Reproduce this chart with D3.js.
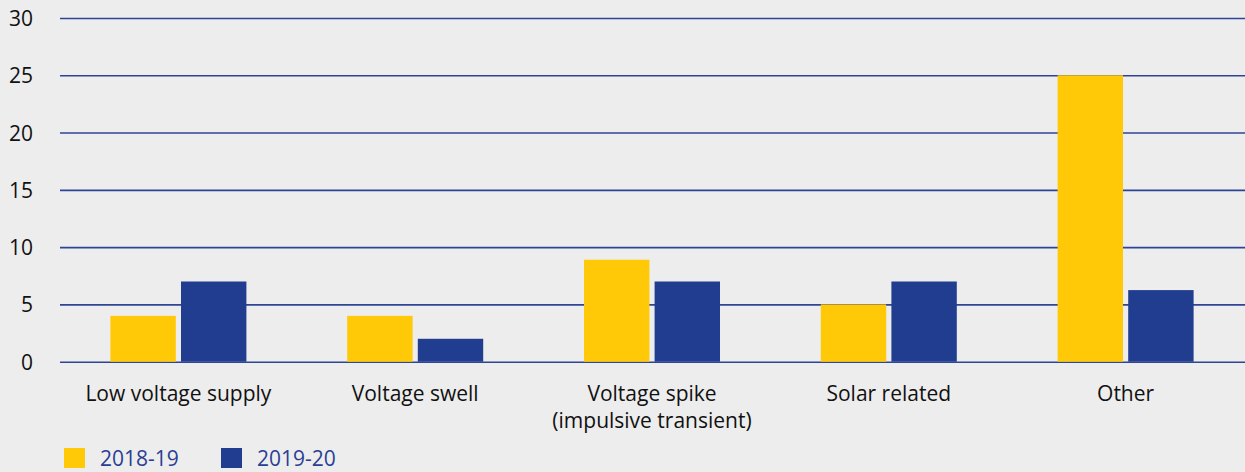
<!DOCTYPE html>
<html>
<head>
<meta charset="utf-8">
<script src="https://cdn.jsdelivr.net/npm/d3@7/dist/d3.min.js"></script>
<style>
  html, body { margin: 0; padding: 0; background: #ededed; }
  svg { display: block; }
  text { font-family: "Open Sans", Lato, sans-serif; }
</style>
</head>
<body>
<svg id="chart" width="1245" height="472"></svg>
<script>
// Complaint categories and counts per year
const categories = [
  ["Low voltage supply"],
  ["Voltage swell"],
  ["Voltage spike", "(impulsive transient)"],
  ["Solar related"],
  ["Other"]
];
const seriesNames = ["2018-19", "2019-20"];
const values2018 = [4, 4, 8.9, 5, 25];
const values2019 = [7, 2, 7, 7, 6.25];
const yTicks = [0, 5, 10, 15, 20, 25, 30];
const colors = ["#ffc907", "#213d8f"];

const svg = d3.select("#chart");
const W = 1245;
const plotLeft = 60, plotRight = 1244, plotTop = 18, plotBottom = 361.7;

const x = d3.scaleBand()
  .domain(d3.range(categories.length))
  .range([plotLeft, plotRight])
  .padding(0);

const y = d3.scaleLinear().domain([0, 30]).range([plotBottom, plotTop]);

// inner band for the two years within each category
const groupHalf = 68;
const xInner = d3.scaleBand()
  .domain(seriesNames)
  .range([-groupHalf, groupHalf])
  .paddingInner(10 / 136);

// gridlines
const yAxis = d3.axisLeft(y)
  .tickValues(yTicks)
  .tickSize(-(W - plotLeft))
  .tickPadding(27);

const gAxis = svg.append("g")
  .attr("transform", `translate(${plotLeft},0)`)
  .call(yAxis);
gAxis.select(".domain").remove();
gAxis.selectAll(".tick line")
  .attr("stroke", "#2e4596")
  .attr("stroke-width", 1.6);
gAxis.selectAll(".tick text")
  .attr("fill", "#111")
  .attr("dy", "0.36em")
  .style("font-size", "21px")
  .style("font-family", "'Open Sans', sans-serif");

// bars
const series = [values2018, values2019];
series.forEach((vals, si) => {
  svg.append("g").selectAll("rect")
    .data(vals)
    .join("rect")
    .attr("x", (d, i) => x(i) + x.bandwidth() / 2 + xInner(seriesNames[si]))
    .attr("width", xInner.bandwidth())
    .attr("y", d => y(d))
    .attr("height", d => y(0) - y(d))
    .attr("fill", colors[si]);
});

// category labels
const labels = svg.append("g").selectAll("text")
  .data(categories)
  .join("text")
  .attr("x", (d, i) => x(i) + x.bandwidth() / 2)
  .attr("y", 401)
  .attr("text-anchor", "middle")
  .attr("fill", "#111")
  .style("font-size", "21px");
labels.selectAll("tspan")
  .data(d => d)
  .join("tspan")
  .attr("x", function () { return d3.select(this.parentNode).attr("x"); })
  .attr("dy", (d, i) => i === 0 ? 0 : 27)
  .text(d => d);

// legend
const legend = svg.append("g");
const legendX = [64, 221];
seriesNames.forEach((name, i) => {
  legend.append("rect")
    .attr("x", legendX[i])
    .attr("y", 448)
    .attr("width", 21)
    .attr("height", 20)
    .attr("fill", colors[i]);
  legend.append("text")
    .attr("x", legendX[i] + 36)
    .attr("y", 466)
    .attr("fill", "#2a3f94")
    .style("font-size", "21px")
    .text(name);
});
</script>
</body>
</html>
